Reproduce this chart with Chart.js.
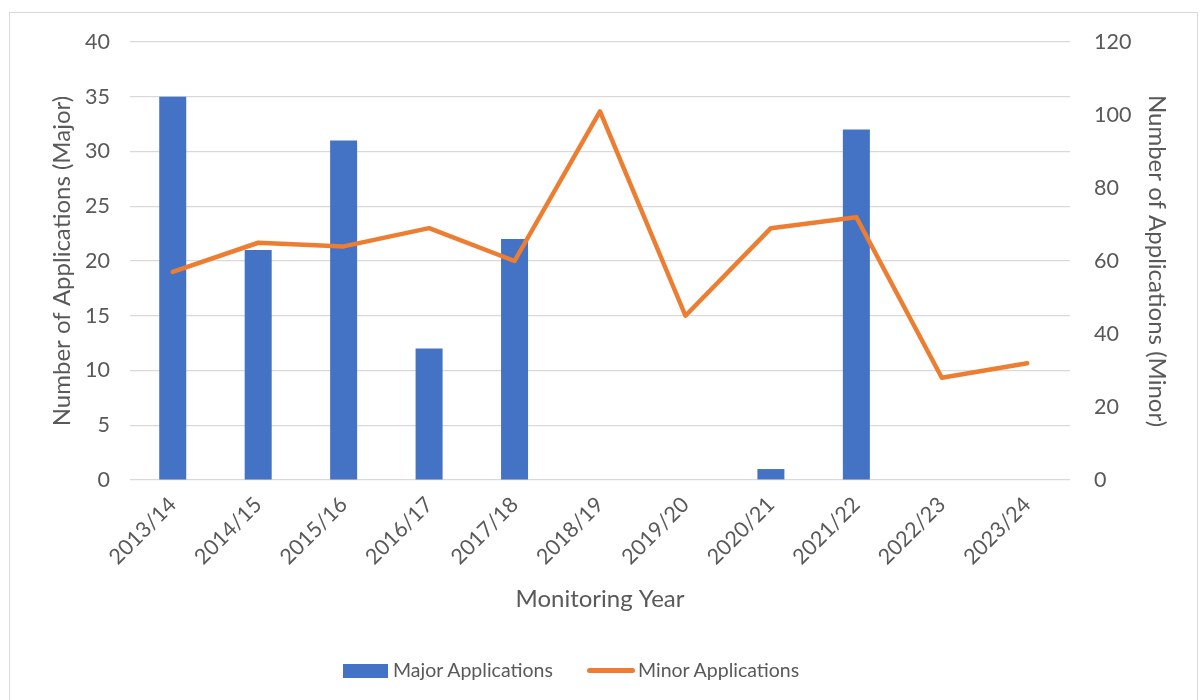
<!DOCTYPE html>
<html>
<head>
<meta charset="utf-8">
<script src="https://cdn.jsdelivr.net/npm/chart.js@4.4.1/dist/chart.umd.min.js"></script>
<style>
  html, body { margin: 0; padding: 0; background: #fff; }
  #wrap { position: relative; width: 1203px; height: 700px; overflow: hidden; font-family: 'Lato', 'Open Sans', sans-serif; }
  #frame { position: absolute; left: 9px; top: 12px; width: 1189px; height: 700px; border: 1px solid #d9d9d9; box-sizing: border-box; }
  #chartBox { position: absolute; left: 0; top: 0; width: 1203px; height: 700px; }
  .leg { position: absolute; top: 657px; font-size: 19.5px; color: #595959; line-height: 26px; white-space: nowrap; }
  .sw { position: absolute; }
</style>
</head>
<body>
<div id="wrap">
  <div id="frame"></div>
  <div id="chartBox"><canvas id="chartMain"></canvas></div>
  <div class="sw" style="left:343px;top:664px;width:45px;height:14px;background:#4472C4"></div>
  <div class="leg" style="left:393px">Major Applications</div>
  <div class="sw" style="left:587px;top:668px;width:48px;height:5px;border-radius:3px;background:#ED7D31"></div>
  <div class="leg" style="left:638px">Minor Applications</div>
</div>
<script>
// Monitoring years and application counts
const years = ['2013/14', '2014/15', '2015/16', '2016/17', '2017/18', '2018/19', '2019/20', '2020/21', '2021/22', '2022/23', '2023/24'];
const majorApps = [35, 21, 31, 12, 22, 0, 0, 1, 32, 0, 0];
const minorApps = [57, 65, 64, 69, 60, 101, 45, 69, 72, 28, 32];

const TXT = '#595959';
const GRID = '#d9d9d9';
Chart.defaults.font.family = "'Lato', 'Open Sans', sans-serif";
Chart.defaults.color = TXT;

new Chart(document.getElementById('chartMain'), {
  data: {
    labels: years,
    datasets: [
      {
        type: 'line',
        label: 'Minor Applications',
        data: minorApps,
        yAxisID: 'yR',
        borderColor: '#ED7D31',
        borderWidth: 4.5,
        pointRadius: 0,
        tension: 0,
        fill: false,
        borderJoinStyle: 'round',
        borderCapStyle: 'round',
      },
      {
        type: 'bar',
        label: 'Major Applications',
        data: majorApps,
        yAxisID: 'yL',
        backgroundColor: '#4472C4',
        categoryPercentage: 1,
        barPercentage: 0.316,
      },
    ],
  },
  options: {
    responsive: true,
    maintainAspectRatio: false,
    animation: false,
    layout: { padding: { left: 44, right: 28, top: 42, bottom: 82 } },
    plugins: { legend: { display: false }, tooltip: { enabled: false } },
    scales: {
      x: {
        grid: { display: false },
        border: { display: false },
        ticks: { font: { size: 21.5 }, color: TXT, minRotation: 45, maxRotation: 45, padding: 4 },
        title: { display: true, text: 'Monitoring Year', font: { size: 24 }, color: TXT, padding: { top: 4 } },
        afterFit: s => { s.height = 138; },
      },
      yL: {
        position: 'left',
        min: 0, max: 40,
        ticks: { stepSize: 5, font: { size: 21.5 }, color: TXT, padding: 20 },
        grid: { color: GRID, lineWidth: 1.2, drawTicks: false },
        border: { display: false },
        title: { display: true, text: 'Number of Applications (Major)', font: { size: 24 }, color: TXT },
        afterFit: s => { s.width = 86; },
      },
      yR: {
        position: 'right',
        min: 0, max: 120,
        ticks: { stepSize: 20, font: { size: 21.5 }, color: TXT, padding: 24 },
        grid: { display: false, drawTicks: false },
        border: { display: false },
        title: { display: true, text: 'Number of Applications (Minor)', font: { size: 24 }, color: TXT },
        afterFit: s => { s.width = 105; },
      },
    },
  },
});
</script>
</body>
</html>
